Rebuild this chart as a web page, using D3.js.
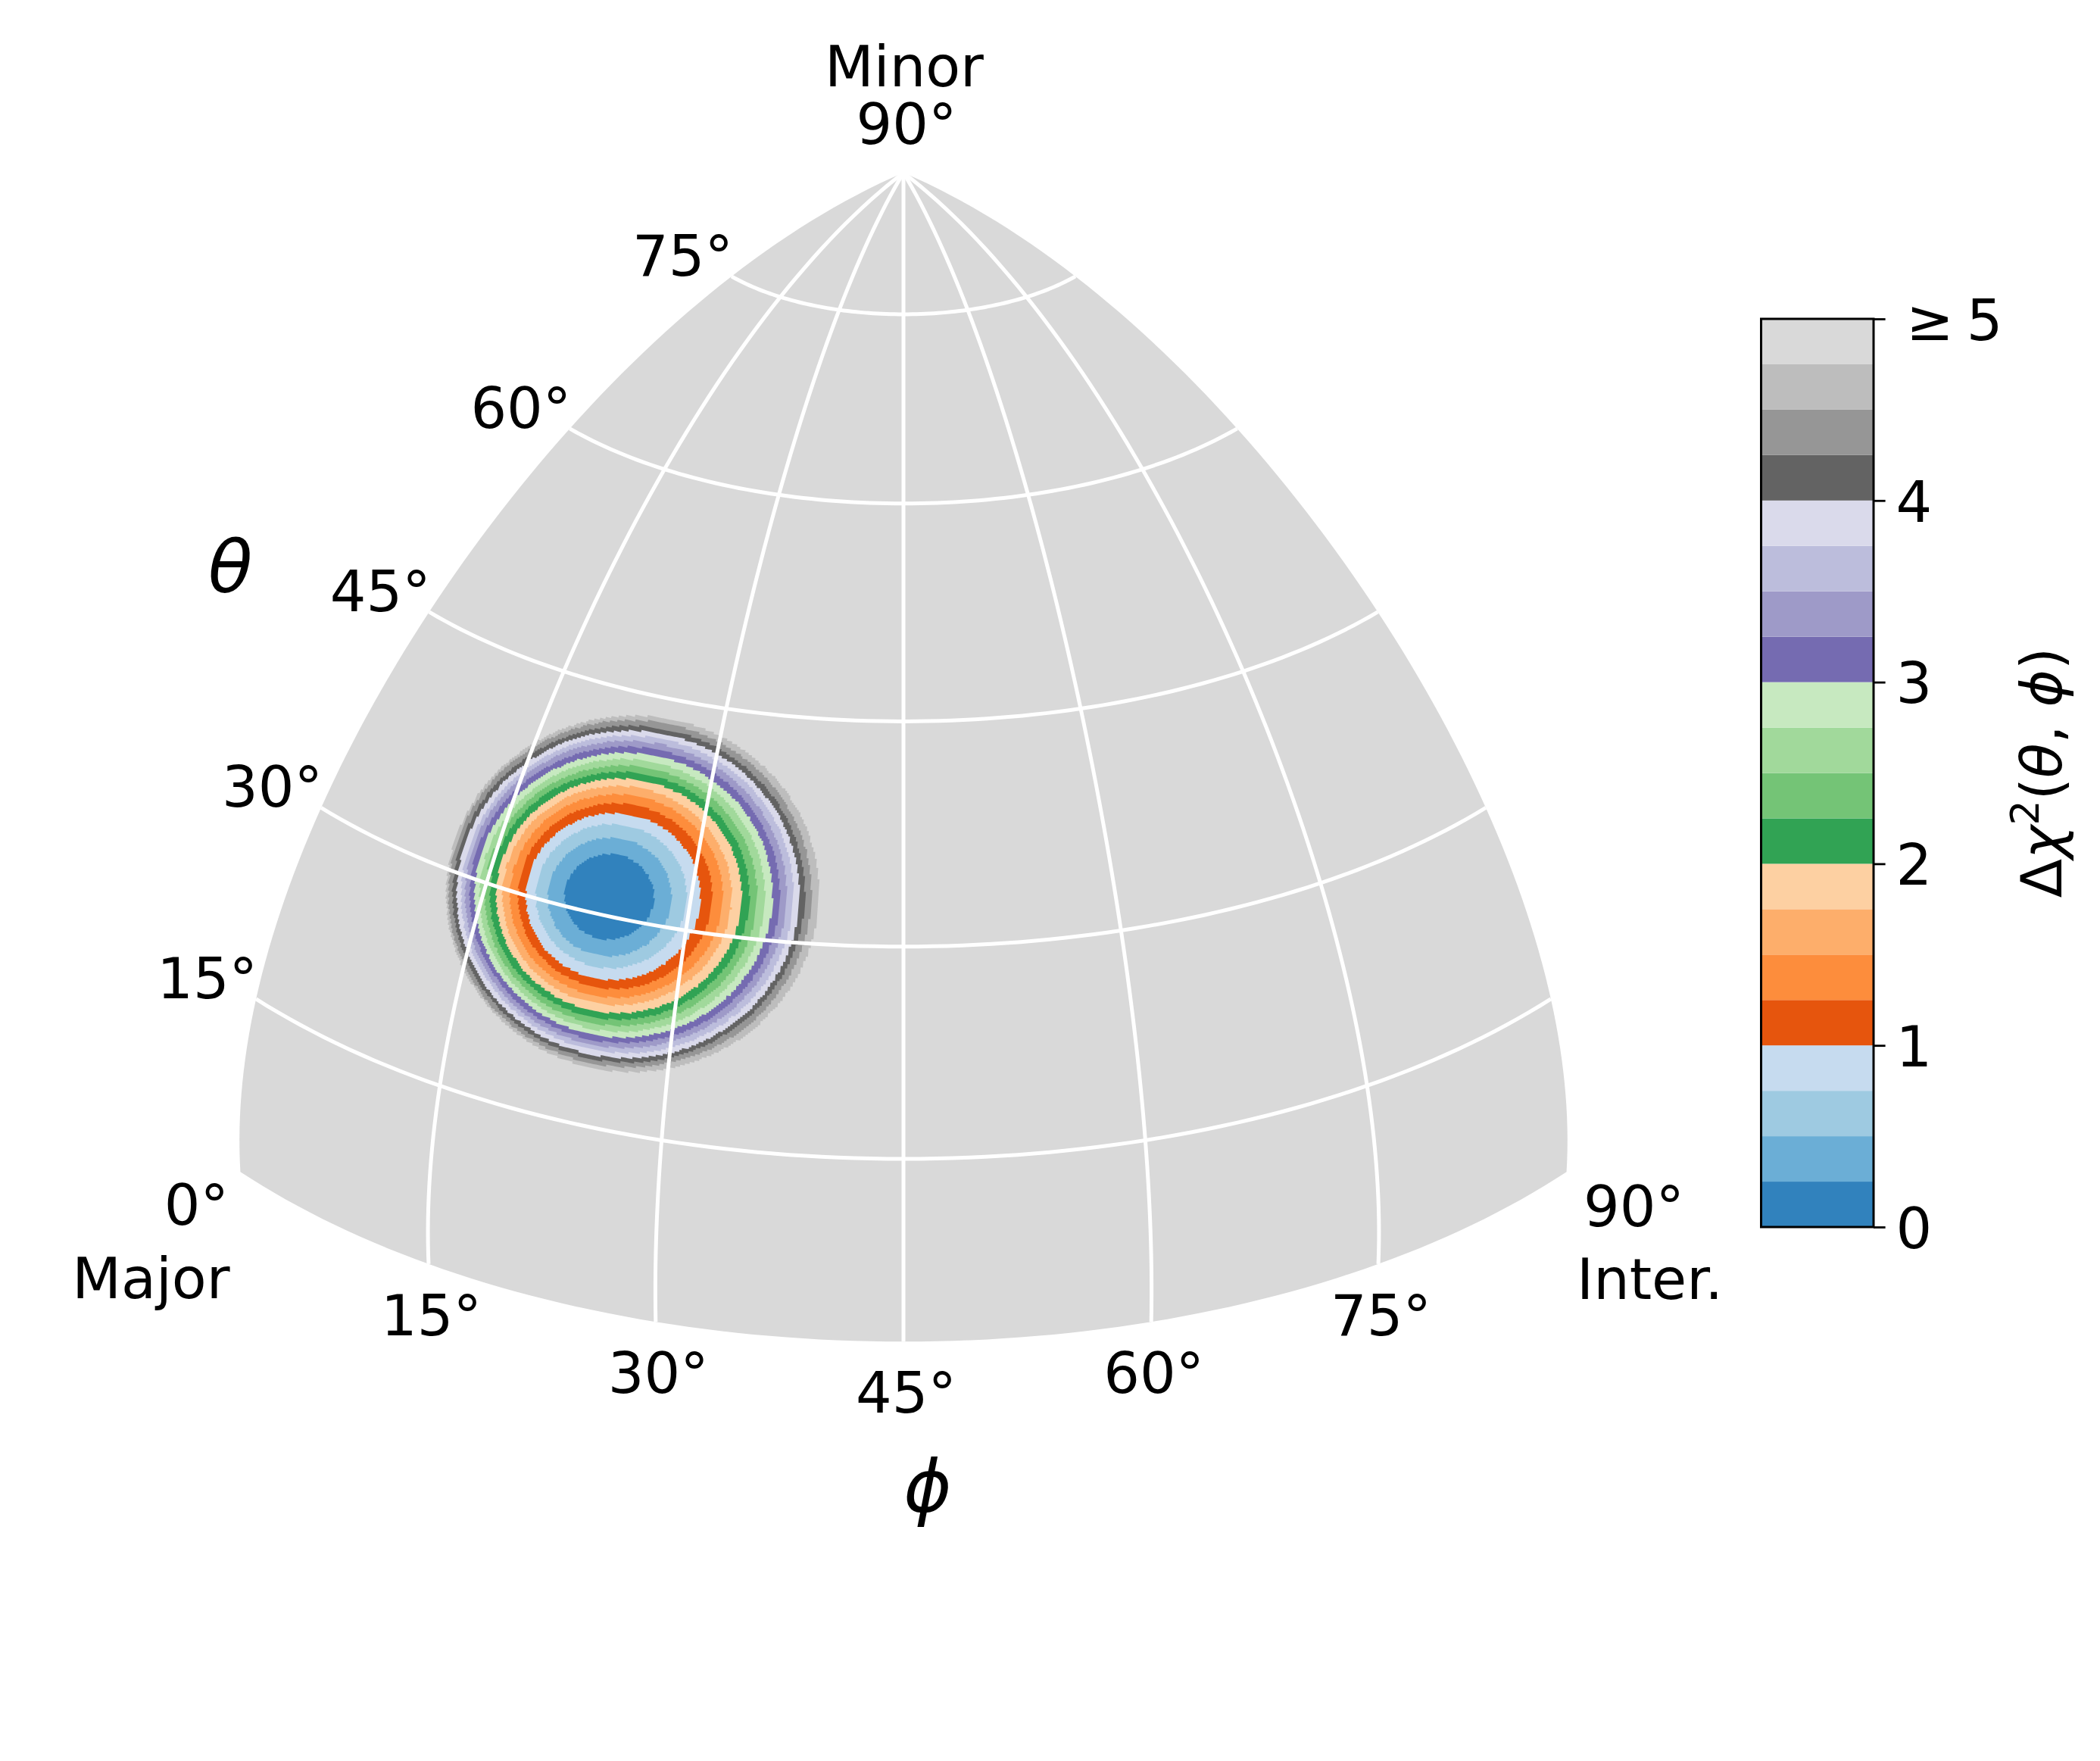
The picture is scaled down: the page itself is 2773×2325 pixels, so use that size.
<!DOCTYPE html>
<html>
<head>
<meta charset="utf-8">
<script src="https://cdn.jsdelivr.net/npm/d3@7"></script>
<style>
  html, body { margin: 0; background: #fff; }
  text { font-family: "DejaVu Sans"; font-size: 75px; fill: #000; }
</style>
</head>
<body>
<svg id="chart" width="2773" height="2325"></svg>
<script>
const thetaTicks = [0, 15, 30, 45, 60, 75, 90];
const phiTicks = [0, 15, 30, 45, 60, 75, 90];
const gridLines = [15, 30, 45, 60, 75];

// tab20c
const bandColors = [
  "#3182bd", "#6baed6", "#9ecae1", "#c6dbef",
  "#e6550d", "#fd8d3c", "#fdae6b", "#fdd0a2",
  "#31a354", "#74c476", "#a1d99b", "#c7e9c0",
  "#756bb1", "#9e9ac8", "#bcbddc", "#dadaeb",
  "#636363", "#969696", "#bdbdbd", "#d9d9d9"
];

// outer contour of each band, Delta chi2 = 0.25, 0.5 ... 4.75
const contourLevels = [0.25, 0.5, 0.75, 1, 1.25, 1.5, 1.75, 2, 2.25, 2.5, 2.75, 3, 3.25, 3.5, 3.75, 4, 4.25, 4.5, 4.75];
const contourPhi = [24.17, 24.2, 24.3, 24.45, 24.58, 24.67, 24.71, 24.85, 24.9, 24.99, 25.08, 25.17, 25.25, 25.32, 25.43, 25.48, 25.53, 25.61, 25.8];
const contourTheta = [31.3, 31.3, 31.37, 31.37, 31.43, 31.46, 31.49, 31.5, 31.52, 31.54, 31.57, 31.61, 31.65, 31.69, 31.71, 31.72, 31.75, 31.8, 31.82];
const contourRadius = [2.82, 3.91, 4.76, 5.51, 6.13, 6.72, 7.24, 7.75, 8.19, 8.6, 9.01, 9.41, 9.79, 10.15, 10.49, 10.82, 11.12, 11.46, 11.77];

const cbarTicks = [0, 1, 2, 3, 4, 5];
const gridStep = 0.15;

const svg = d3.select("#chart");
const rad = Math.PI / 180;

const xPlane = d3.scaleLinear().domain([-1, 1]).range([193, 2193]);
const yPlane = d3.scaleLinear().domain([0, 1]).range([1199.65, 199.65]);

// tilted view of the octant, fitted on the graticule crossings
function project(phi, theta) {
  const lam = (phi - 45) * rad;
  const th = theta * rad;
  const s = Math.sin(th);
  const c = Math.cos(th);
  const sag = 1 - Math.cos(lam);
  const u = c * Math.sin(lam) * (1.285 - 0.1 * sag - 0.07 * (s - 0.5) * (s - 0.5));
  const v = 0.89685 * s - 0.49685 * c - 0.0356 * Math.sin(2 * th) - 0.0748 * Math.cos(2 * th)
    + sag * c * (0.765 - 0.06 * s - 0.05 * s * s);
  return [xPlane(u), yPlane(v)];
}

// newton steps back from the picture to phi, theta
function unproject(px, py, start) {
  let [phi, theta] = start;
  for (let k = 0; k < 4; k++) {
    const p = project(phi, theta);
    const a = project(phi + 0.1, theta);
    const b = project(phi, theta + 0.1);
    const j11 = (a[0] - p[0]) / 0.1;
    const j21 = (a[1] - p[1]) / 0.1;
    const j12 = (b[0] - p[0]) / 0.1;
    const j22 = (b[1] - p[1]) / 0.1;
    const det = j11 * j22 - j12 * j21;
    const ex = px - p[0];
    const ey = py - p[1];
    phi += (j22 * ex - j12 * ey) / det;
    theta += (j11 * ey - j21 * ex) / det;
  }
  return [phi, theta];
}

const line = d3.line().x((d) => project(d[0], d[1])[0]).y((d) => project(d[0], d[1])[1]);

const meridian = (phi, a, b) => d3.range(a, b + (a < b ? 1 : -1), a < b ? 1 : -1).map((t) => [phi, t]);
const parallel = (theta, a, b) => d3.range(a, b + (a < b ? 1 : -1), a < b ? 1 : -1).map((p) => [p, theta]);

// background octant
svg.append("path")
  .attr("d", line([...meridian(0, 90, 0), ...parallel(0, 0, 90), ...meridian(90, 0, 90)]) + "Z")
  .attr("fill", "#d9d9d9");

// stair-stepped contours, same look as the mesh of the original
function stairRing(i) {
  const centre = [contourPhi[i], contourTheta[i]];
  const c = project(centre[0], centre[1]);
  const snap = (v) => Math.round(v / gridStep) * gridStep;
  const out = [];
  d3.range(0, 360.5, 0.5).forEach((a) => {
    const d = unproject(
      c[0] + 20.9 * contourRadius[i] * Math.cos(a * rad),
      c[1] + 20 * contourRadius[i] * Math.sin(a * rad),
      centre
    );
    const p = [snap(d[0]), snap(d[1])];
    const last = out[out.length - 1];
    if (last && (last[0] !== p[0] || last[1] !== p[1])) {
      if (last[0] !== p[0] && last[1] !== p[1]) out.push([p[0], last[1]]);
      out.push(p);
    } else if (!last) {
      out.push(p);
    }
  });
  return out;
}

svg.append("g").selectAll("path")
  .data(d3.range(contourLevels.length).reverse())
  .join("path")
  .attr("d", (i) => line(stairRing(i)) + "Z")
  .attr("fill", (i) => bandColors[i]);

// graticule
const grid = svg.append("g").attr("fill", "none").attr("stroke", "#fff").attr("stroke-width", 5);
gridLines.forEach((t) => {
  grid.append("path").attr("d", line(parallel(t, 0, 90)));
  grid.append("path").attr("d", line(meridian(t, 0, 90)));
});

// theta labels along the left edge
thetaTicks.filter((t) => t > 0 && t < 90).forEach((t) => {
  const p = project(0, t);
  svg.append("text")
    .attr("x", p[0] + 2)
    .attr("y", p[1] - 1)
    .attr("text-anchor", "end")
    .text(t + "°");
});

// phi labels under the bottom edge
phiTicks.filter((t) => t > 0 && t < 90).forEach((t) => {
  const p = project(t, 0);
  svg.append("text")
    .attr("x", p[0] + 3.5)
    .attr("y", p[1] + 94)
    .attr("text-anchor", "middle")
    .text(t + "°");
});

const corner = (label, pt, dx, dy) => svg.append("text")
  .attr("x", pt[0] + dx)
  .attr("y", pt[1] + dy)
  .attr("text-anchor", "middle")
  .text(label);

corner("90°", project(45, 90), 4, -38);
corner("Minor", project(45, 90), 1, -114);
corner("0°", project(0, 0), -58, 70);
corner("Major", project(0, 0), -118, 167);
corner("90°", project(90, 0), 89, 72);
corner("Inter.", project(90, 0), 110, 168);

svg.append("text").attr("x", 304).attr("y", 782)
  .attr("text-anchor", "middle").attr("font-style", "italic")
  .style("font-size", "96px").text("θ");
svg.append("text").attr("x", 1225).attr("y", 1996)
  .attr("text-anchor", "middle").attr("font-style", "italic")
  .style("font-size", "96px").text("ϕ");

// colorbar
const cbarLeft = 2325.5;
const cbarRight = 2474;
const cbarY = d3.scaleLinear().domain([0, 5]).range([1620, 421]);

svg.append("g").selectAll("rect")
  .data(bandColors)
  .join("rect")
  .attr("x", cbarLeft)
  .attr("width", cbarRight - cbarLeft)
  .attr("y", (d, i) => cbarY((i + 1) * 0.25))
  .attr("height", cbarY(0) - cbarY(0.25))
  .attr("fill", (d) => d);

svg.append("rect")
  .attr("x", cbarLeft)
  .attr("y", cbarY(5))
  .attr("width", cbarRight - cbarLeft)
  .attr("height", cbarY(0) - cbarY(5))
  .attr("fill", "none")
  .attr("stroke", "#000")
  .attr("stroke-width", 3);

const cbarAxis = svg.append("g")
  .attr("transform", `translate(${cbarRight},0)`)
  .call(d3.axisRight(cbarY)
    .tickValues(cbarTicks)
    .tickSize(15.6)
    .tickPadding(14)
    .tickFormat((d) => (d === 5 ? "≥ 5" : d)));
cbarAxis.select(".domain").remove();
cbarAxis.selectAll(".tick line").attr("stroke", "#000").attr("stroke-width", 2.8);
cbarAxis.selectAll(".tick text")
  .attr("dy", "0.365em")
  .attr("x", (d) => (d === 5 ? 43 : 29.6))
  .attr("word-spacing", (d) => (d === 5 ? -7 : null))
  .attr("font-family", null)
  .attr("font-size", null);
cbarAxis.attr("font-size", null).attr("font-family", null);

const cbarLabel = svg.append("text")
  .attr("transform", "translate(2722,1020) rotate(-90)")
  .attr("text-anchor", "middle");
cbarLabel.append("tspan").text("Δ");
cbarLabel.append("tspan").attr("font-style", "italic").text("χ");
cbarLabel.append("tspan").attr("dy", -30).style("font-size", "52px").text("2");
cbarLabel.append("tspan").attr("dy", 30).text("(");
cbarLabel.append("tspan").attr("font-style", "italic").text("θ");
cbarLabel.append("tspan").text(", ");
cbarLabel.append("tspan").attr("font-style", "italic").text("ϕ");
cbarLabel.append("tspan").text(")");
</script>
</body>
</html>
